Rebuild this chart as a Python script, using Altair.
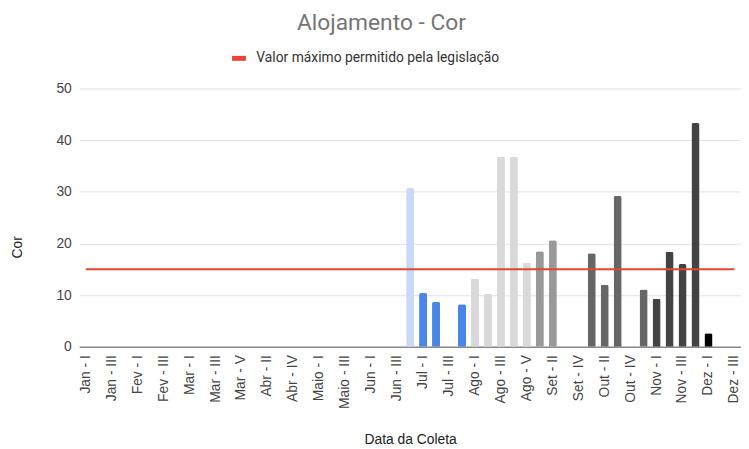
import altair as alt
import pandas as pd

categories = [
    "Jan - I", "Jan - II", "Jan - III", "Jan - IV",
    "Fev - I", "Fev - II", "Fev - III", "Fev - IV",
    "Mar - I", "Mar - II", "Mar - III", "Mar - IV", "Mar - V",
    "Abr - I", "Abr - II", "Abr - III", "Abr - IV", "Abr - V",
    "Maio - I", "Maio - II", "Maio - III", "Maio - IV",
    "Jun - I", "Jun - II", "Jun - III", "Jun - IV",
    "Jul - I", "Jul - II", "Jul - III", "Jul - IV",
    "Ago - I", "Ago - II", "Ago - III", "Ago - IV", "Ago - V",
    "Set - I", "Set - II", "Set - III", "Set - IV",
    "Out - I", "Out - II", "Out - III", "Out - IV", "Out - V",
    "Nov - I", "Nov - II", "Nov - III", "Nov - IV",
    "Dez - I", "Dez - II", "Dez - III",
]

bar_categories = [
    "Jun - IV", "Jul - I", "Jul - II", "Jul - IV",
    "Ago - I", "Ago - II", "Ago - III", "Ago - IV", "Ago - V",
    "Set - I", "Set - II",
    "Out - I", "Out - II", "Out - III", "Out - V",
    "Nov - I", "Nov - II", "Nov - III", "Nov - IV",
    "Dez - I",
]
bar_values = [
    30.8, 10.4, 8.7, 8.2,
    13.2, 10.2, 36.8, 36.8, 16.3,
    18.5, 20.6,
    18.1, 12.0, 29.2, 11.1,
    9.3, 18.4, 16.0, 43.3,
    2.6,
]
bar_groups = [
    "Jun", "Jul", "Jul", "Jul",
    "Ago", "Ago", "Ago", "Ago", "Ago",
    "Set", "Set",
    "Out", "Out", "Out", "Out",
    "Nov", "Nov", "Nov", "Nov",
    "Dez",
]
group_names = ["Jun", "Jul", "Ago", "Set", "Out", "Nov", "Dez"]
group_colors = ["#c9daf8", "#4a86e8", "#d9d9d9", "#999999", "#666666", "#434343", "#000000"]

x_tick_labels = categories[::2]
y_ticks = [0, 10, 20, 30, 40, 50]
limit_value = 15
limit_label = "Valor máximo permitido pela legislação"
limit_color = "#ea4335"

bars_df = pd.DataFrame({"data": bar_categories, "cor": bar_values, "grupo": bar_groups})
limit_df = pd.DataFrame({
    "inicio": [categories[0]],
    "fim": [categories[-1]],
    "valor": [limit_value],
    "serie": [limit_label],
})

x_scale = alt.Scale(domain=categories, paddingInner=0.38, paddingOuter=0.2)
y_scale = alt.Scale(domain=[0, 50], nice=False)

x_axis = alt.Axis(values=x_tick_labels, labelAngle=-90, labelPadding=8, ticks=False,
                  grid=False, domain=True, domainColor="#8a8a8a", domainWidth=1.5,
                  titlePadding=24)
y_axis = alt.Axis(values=y_ticks, ticks=False, domain=False, grid=True,
                  gridColor="#e2e2e2", labelPadding=8, titlePadding=32, titleY=160)

bars = alt.Chart(bars_df).mark_bar(
    cornerRadiusTopLeft=2, cornerRadiusTopRight=2
).encode(
    x=alt.X("data:N", scale=x_scale, sort=categories, title="Data da Coleta", axis=x_axis),
    y=alt.Y("cor:Q", scale=y_scale, title="Cor", axis=y_axis),
    color=alt.Color("grupo:N", scale=alt.Scale(domain=group_names, range=group_colors),
                    legend=None),
)

limit = alt.Chart(limit_df).mark_rule(strokeWidth=2).encode(
    x=alt.X("inicio:N", scale=x_scale, sort=categories, title="Data da Coleta", axis=x_axis),
    x2="fim:N",
    y=alt.Y("valor:Q", scale=y_scale, title="Cor", axis=y_axis),
    color=alt.Color(
        "serie:N",
        scale=alt.Scale(domain=[limit_label], range=[limit_color]),
        legend=alt.Legend(
            title=None, orient="none", legendX=152, legendY=-40,
            symbolType="stroke", symbolStrokeWidth=5, symbolSize=196,
            labelFont="Roboto", labelFontSize=14, labelColor="#333333",
            labelLimit=400, labelOffset=8,
        ),
    ),
)

chart = alt.layer(bars, limit).resolve_scale(color="independent").properties(
    width=669,
    height=261,
    autosize=alt.AutoSizeParams(type="none"),
    padding={"left": 72, "top": 79, "right": 0, "bottom": 100},
    title=alt.TitleParams(
        "Alojamento - Cor", font="Roboto", fontSize=23, color="#757575",
        fontWeight="normal", anchor="middle", dx=-29, offset=14,
    ),
).configure_view(stroke=None).configure_axis(
    labelFont="Liberation Sans", labelFontSize=14, labelColor="#444444",
    titleFont="Liberation Sans", titleFontSize=14, titleColor="#222222",
    titleFontWeight="normal",
)

chart.save("out.html", embed_options={"renderer": "svg", "actions": False})
